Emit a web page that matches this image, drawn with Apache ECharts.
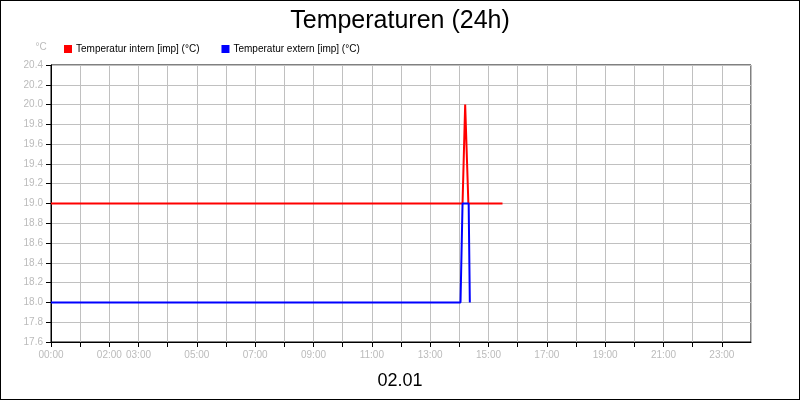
<!DOCTYPE html>
<html><head><meta charset="utf-8">
<script src="https://cdn.jsdelivr.net/npm/echarts@6/dist/echarts.min.js"></script>
<style>html,body{margin:0;padding:0}#c{width:798px;height:398px;border:1px solid #000}</style>
</head><body><div id="c"></div>
<script>
const shownHours = [0,2,3,5,7,9,11,13,15,17,19,21,23];
const internHours = [0, 14.11, 14.2, 14.25, 14.31, 15.48];
const internVals  = [19.0, 19.0, 20.0, 20.0, 19.0, 19.0];
const externHours = [0, 14.04, 14.11, 14.32, 14.36];
const externVals  = [18.0, 18.0, 19.0, 19.0, 18.0];
const pair = (h, v) => h.map((x, i) => [x, v[i]]);
const F = 'Liberation Sans';
const chart = echarts.init(document.getElementById('c'));
chart.setOption({
  animation: false,
  title: [{text: 'Temperaturen (24h)', left: 'center', top: 3, textStyle: {fontFamily: F, fontSize: 25, fontWeight: 'normal', color: '#000'}},
          {text: '02.01', left: 'center', top: 366, textStyle: {fontFamily: F, fontSize: 18, fontWeight: 'normal', color: '#000'}}],
  legend: {left: 58, top: 38, itemWidth: 8, itemHeight: 8, itemGap: 22, icon: 'rect',
    textStyle: {fontFamily: F, fontSize: 10, color: '#000', padding: [0,0,0,-1]}},
  grid: {left: 50, right: 48, top: 64, bottom: 57, show: true, borderColor: '#000', borderWidth: 1},
  xAxis: {type: 'value', min: 0, max: 24, interval: 1,
    axisLine: {lineStyle: {color: '#000'}}, axisTick: {show: true, lineStyle: {color: '#000'}},
    splitLine: {show: true, lineStyle: {color: '#c0c0c0'}},
    axisLabel: {color: '#bbb', fontFamily: F, fontSize: 10, showMaxLabel: false,
      formatter: v => shownHours.includes(v) ? String(v).padStart(2, '0') + ':00' : ''}},
  yAxis: {type: 'value', min: 17.6, max: 20.4, interval: 0.2, name: '°C',
    nameTextStyle: {color: '#bbb', fontFamily: F, fontSize: 10, padding: [0, 20, -2, 0]},
    axisLine: {show: true, lineStyle: {color: '#000'}}, axisTick: {show: true, lineStyle: {color: '#000'}},
    splitLine: {show: true, lineStyle: {color: '#c0c0c0'}},
    axisLabel: {color: '#bbb', fontFamily: F, fontSize: 10, formatter: v => v.toFixed(1)}},
  series: [
    {name: 'Temperatur intern [imp] (°C)', type: 'line', data: pair(internHours, internVals), showSymbol: false, color: '#ff0000', lineStyle: {width: 2}},
    {name: 'Temperatur extern [imp] (°C)', type: 'line', data: pair(externHours, externVals), showSymbol: false, color: '#0000ff', lineStyle: {width: 2}}
  ]
});
</script></body></html>
